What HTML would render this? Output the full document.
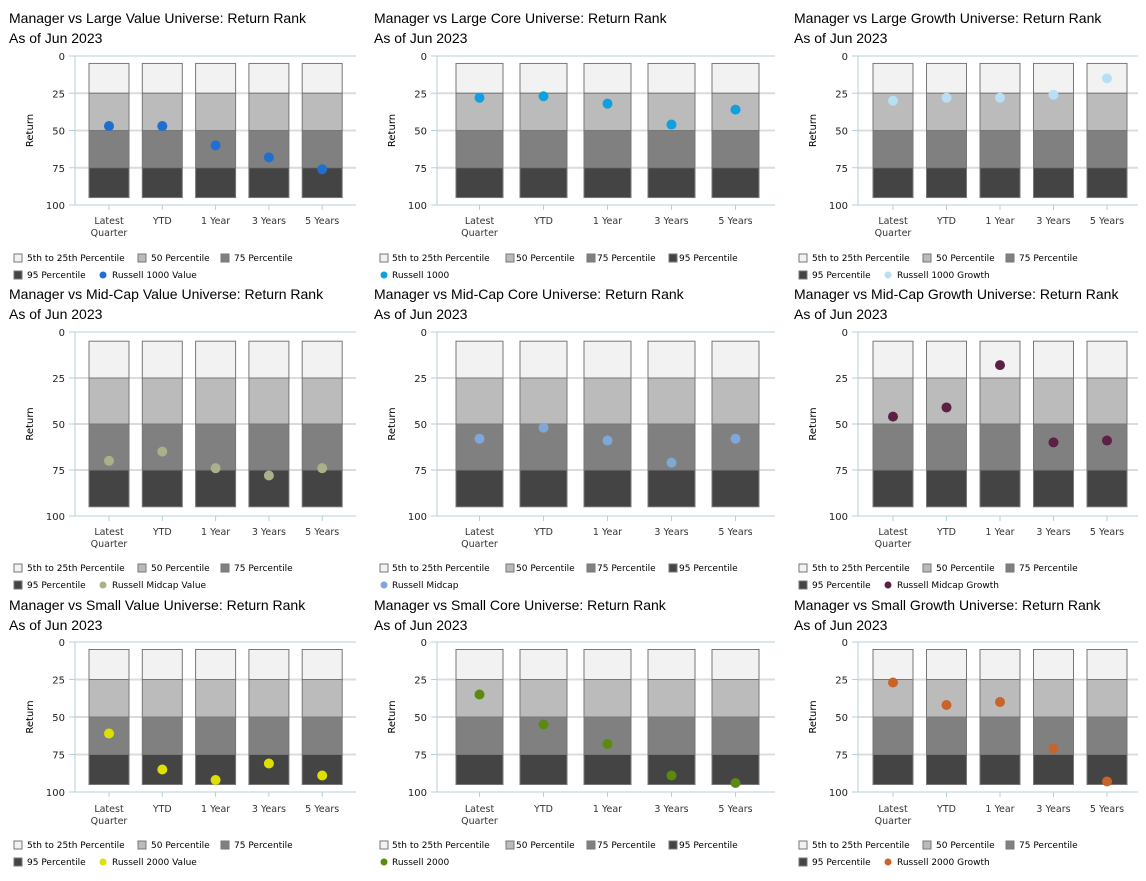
<!DOCTYPE html>
<html><head><meta charset="utf-8"><style>
body{margin:0;background:#fff;}
svg{display:block;font-family:"DejaVu Sans","Liberation Sans",sans-serif;}
</style></head><body>
<svg id="s" width="1146" height="881" xmlns="http://www.w3.org/2000/svg"></svg>
<script>
var S=document.getElementById('s'),h='';
var cols=[{ox:0,tx:9,ax:75,r:356,b0:89,bw:40,sp:53.3,lg:[[14,27],[138,151],[221,234]],lg2:[[14,27],[99,112]]},
{ox:370,tx:374,ax:437,r:775,b0:456,bw:47,sp:64,lg:[[380,392],[506,516],[587,597],[669,679]],lg2:[[380,392]]},
{ox:785,tx:794,ax:858,r:1138,b0:873,bw:40,sp:53.5,lg:[[799,812],[923,936],[1006,1019]],lg2:[[799,812],[884,897]]}];
var rows=[{t:18,top:56,bot:205,xl:220,l1:257,l2:274},{t:294,top:332,bot:516,xl:531,l1:567,l2:584},{t:605,top:642,bot:792,xl:808,l1:844,l2:861}];
var names=[["Large Value","Large Core","Large Growth"],["Mid-Cap Value","Mid-Cap Core","Mid-Cap Growth"],["Small Value","Small Core","Small Growth"]];
var idx=[["Russell 1000 Value","Russell 1000","Russell 1000 Growth"],["Russell Midcap Value","Russell Midcap","Russell Midcap Growth"],["Russell 2000 Value","Russell 2000","Russell 2000 Growth"]];
var colr=[["#1f6fd0","#0ea1e0","#b8e0f5"],["#a9b08a","#7fa8d8","#5c1f45"],["#e0e000","#5a8a10","#c8642a"]];
var data=[[[47,47,60,68,76],[28,27,32,46,36],[30,28,28,26,15]],[[70,65,74,78,74],[58,52,59,71,58],[46,41,18,60,59]],[[61,85,92,81,89],[35,55,68,89,94],[27,42,40,71,93]]];
var xls=[["Latest","Quarter"],["YTD"],["1 Year"],["3 Years"],["5 Years"]];
var fills=["#f2f2f2","#bbbbbb","#808080","#444444"],lab=["5th to 25th Percentile","50 Percentile","75 Percentile","95 Percentile"];
for(var ri=0;ri<3;ri++)for(var ci=0;ci<3;ci++){
var R=rows[ri],C=cols[ci];var Y=function(v){return R.top+(R.bot-R.top)*v/100};
var tx=C.tx;
h+='<text x="'+tx+'" y="'+(R.t+5)+'" font-size="14" font-family="Liberation Sans, sans-serif" fill="#000">Manager vs '+names[ri][ci]+' Universe: Return Rank</text>';
h+='<text x="'+tx+'" y="'+(R.t+25)+'" font-size="14" font-family="Liberation Sans, sans-serif" fill="#000">As of Jun 2023</text>';
[25,50,75].forEach(function(v){h+='<line x1="'+C.ax+'" x2="'+C.r+'" y1="'+Y(v)+'" y2="'+Y(v)+'" stroke="#dcdcdc" stroke-width="2"/>';});
h+='<line x1="'+C.ax+'" x2="'+C.r+'" y1="'+Y(0)+'" y2="'+Y(0)+'" stroke="#b4d0da"/>';
h+='<line x1="'+C.ax+'" x2="'+C.r+'" y1="'+Y(100)+'" y2="'+Y(100)+'" stroke="#b4d0da"/>';
h+='<line x1="'+C.ax+'" x2="'+C.ax+'" y1="'+Y(0)+'" y2="'+Y(100)+'" stroke="#b4d0da"/>';
[0,25,50,75,100].forEach(function(v){h+='<text x="'+(C.ax-10)+'" y="'+(Y(v)+4)+'" font-size="10" text-anchor="end" fill="#222">'+v+'</text>';h+='<line x1="'+(C.ax-6)+'" x2="'+C.ax+'" y1="'+Y(v)+'" y2="'+Y(v)+'" stroke="#b4d0da"/>';});
var my=(R.top+R.bot)/2;h+='<text transform="translate('+(C.ax-42)+','+my+') rotate(-90)" font-size="10" text-anchor="middle" fill="#000">Return</text>';
for(var b=0;b<5;b++){var x=C.b0+b*C.sp,cx=x+C.bw/2;var ed=[5,25,50,75,95];
for(var k=0;k<4;k++)h+='<rect x="'+x+'" y="'+Y(ed[k])+'" width="'+C.bw+'" height="'+(Y(ed[k+1])-Y(ed[k]))+'" fill="'+fills[k]+'" stroke="#777" stroke-width="1"/>';
h+='<line x1="'+cx+'" x2="'+cx+'" y1="'+Y(100)+'" y2="'+(Y(100)+5)+'" stroke="#b4d0da"/>';
xls[b].forEach(function(t,i){h+='<text x="'+cx+'" y="'+(R.xl+4+i*12)+'" font-size="9.5" text-anchor="middle" fill="#333">'+t+'</text>';});
h+='<circle cx="'+cx+'" cy="'+Y(data[ri][ci][b])+'" r="5" fill="'+colr[ri][ci]+'"/>';}
var items=[];for(var k=0;k<4;k++)items.push({t:lab[k],f:fills[k]});items.push({t:idx[ri][ci],c:colr[ri][ci]});
var pos=C.lg.map(function(p){return [p[0],p[1],R.l1]}).concat(C.lg2.map(function(p){return [p[0],p[1],R.l2]}));
items.forEach(function(it,i){var p=pos[i];
if(it.c)h+='<circle cx="'+(p[0]+4)+'" cy="'+(p[2]+1)+'" r="3.5" fill="'+it.c+'"/>';
else h+='<rect x="'+(p[0])+'" y="'+(p[2]-3)+'" width="8" height="8" fill="'+it.f+'" stroke="#777"/>';
h+='<text x="'+p[1]+'" y="'+(p[2]+4)+'" font-size="9" fill="#000">'+it.t+'</text>';});
}
S.innerHTML=h;
</script>
</body></html>
